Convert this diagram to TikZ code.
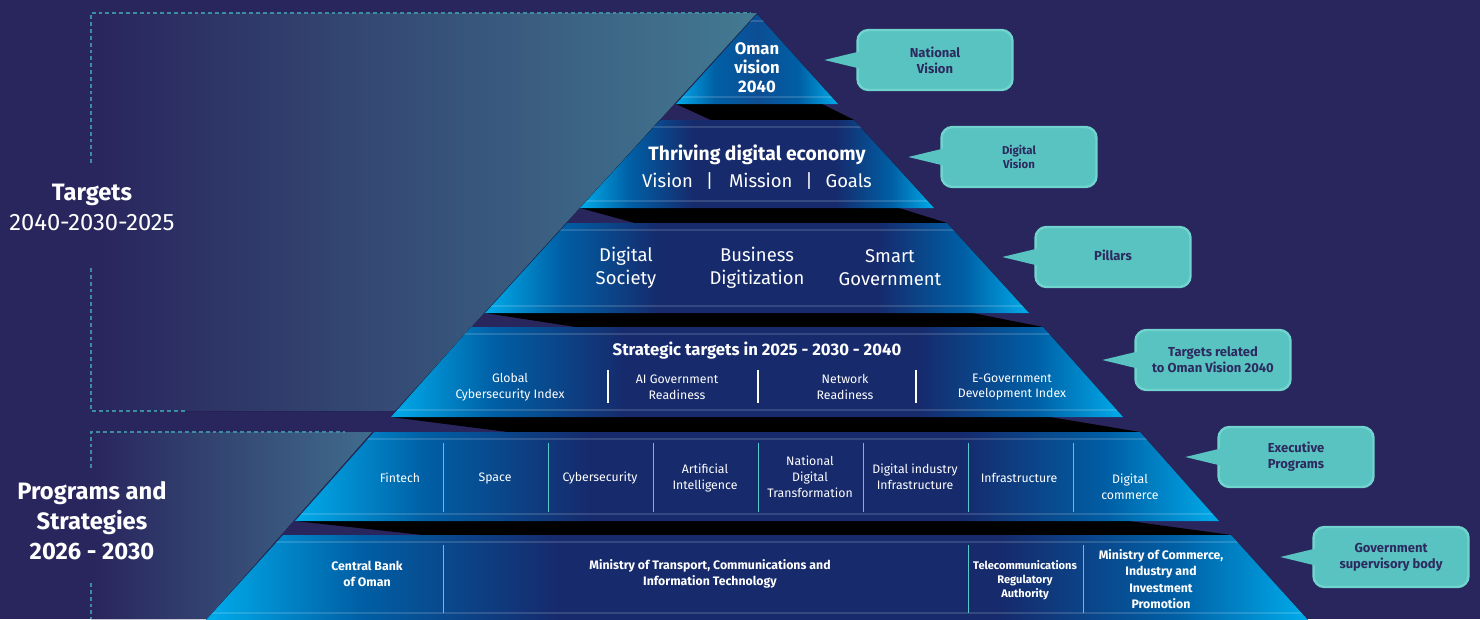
\documentclass[tikz,border=0pt]{standalone}
\usepackage{fontspec}
\setmainfont{Fira Sans}

\definecolor{bgnavy}{RGB}{41,37,93}
\definecolor{panelc}{RGB}{67,122,146}
\definecolor{panelb}{RGB}{64,108,140}
\definecolor{lcyan}{RGB}{0,172,235}
\definecolor{lblue}{RGB}{0,95,165}
\definecolor{lnavy}{RGB}{22,42,108}
\definecolor{tmid}{RGB}{12,78,148}
\definecolor{dashc}{RGB}{62,140,160}
\definecolor{sepc}{RGB}{85,200,200}
\definecolor{callfill}{RGB}{88,195,192}
\definecolor{callline}{RGB}{112,211,205}
\definecolor{calltext}{RGB}{45,42,96}

\pgfdeclarehorizontalshading{layershade}{100bp}{color(0bp)=(lcyan); color(25bp)=(lcyan); color(32bp)=(lblue); color(41bp)=(lnavy); color(61bp)=(lnavy); color(69bp)=(lblue); color(75bp)=(lcyan); color(100bp)=(lcyan)}
\pgfdeclarehorizontalshading{topshade}{100bp}{color(0bp)=(lcyan); color(25bp)=(lcyan); color(37bp)=(lblue); color(50bp)=(tmid); color(63bp)=(lblue); color(75bp)=(lcyan); color(100bp)=(lcyan)}

\begin{document}
\begin{tikzpicture}[x=0.02cm, y=-0.02cm, thick,
	dashline/.style={dashc, line width=0.8pt, dash pattern=on 2.2pt off 1.7pt},
	stripe/.style={white, opacity=0.14, line width=1.2pt},
	sepline/.style={sepc, line width=0.5pt},
	lbl/.style={text=white, align=center, inner sep=1pt},
	itemtxt/.style={lbl, font=\fontsize{7}{9}\selectfont},
	orgtxt/.style={lbl, font=\bfseries\fontsize{7}{9.3}\selectfont},
	sidetxt/.style={lbl, font=\fontsize{13.5}{17}\selectfont},
	callbox/.style={draw=callline, line width=1.4pt, fill=callfill, rounded corners=0.22cm,
		minimum width=3.1cm, minimum height=1.2cm, inner sep=0pt, align=center,
		text=calltext, font=\bfseries\fontsize{7.4}{9}\selectfont}]
				%background
				\fill[bgnavy] (0,0) rectangle (1480,619);
				\useasboundingbox (0,0) rectangle (1480,619);
				
				%side panels
				\fill[left color=bgnavy, right color=panelc] (91,13) -- (757,13) -- (395,411) -- (91,411) -- cycle;
				\fill[left color=bgnavy, right color=panelb] (91,432) -- (372,432) -- (207,619) -- (91,619) -- cycle;
				\draw[dashline] (91,163) -- (91,13) -- (750,13);
				\draw[dashline] (91,268) -- (91,411) -- (187,411);
				\draw[dashline] (91,468) -- (91,432) -- (345,432);
				\draw[dashline] (91,583) -- (91,619);
				
				%shadows under the layers
				\foreach \b/\wb/\tn/\wn/\dl/\dr in {104/81/120/97/35/16, 208/177/223/190/55/35, 313/272/327/286/91/57, 417/366/432/383/117/73, 521/462/535/474/128/90}{
					\fill[black] (757-\wb,\b) -- (757+\wb-\dr,\b) -- (757+\wn,\tn) -- (757-\wb+\dl,\tn) -- cycle;
				}
				
				%pyramid layers
				\foreach \t/\b/\wt/\wb/\shd in {14/104/0/81/topshade, 120/208/97/177/layershade, 223/313/190/272/layershade, 327/417/286/366/layershade, 432/521/383/462/layershade, 535/620/474/551/layershade}{
					\begin{scope}
						\clip (757-\wt,\t) -- (757+\wt,\t) -- (757+\wb,\b) -- (757-\wb,\b) -- cycle;
						\fill[shading=\shd] (757-\wb,\t) rectangle (757+\wb,\b);
						\draw[stripe] (757-\wb,\t+7) -- (757+\wb,\t+7);
						\draw[stripe] (757-\wb,\b-7) -- (757+\wb,\b-7);
					\end{scope}
				}
				
				%separators
				\foreach \x in {608, 758, 916}{
					\draw[white, line width=0.6pt] (\x,370) -- (\x,403);
				}
				\foreach \x in {443, 548, ..., 1073}{
					\draw[sepline] (\x,443) -- (\x,512);
				}
				\foreach \x in {443, 968, 1083}{
					\draw[sepline] (\x,545) -- (\x,613);
				}
				
				%side labels
				\node[sidetxt] (tgt) at (92,207) {\textbf{Targets}\\2040-2030-2025};
				\node[sidetxt, font=\bfseries\fontsize{13.5}{17}\selectfont] (prg) at (92,521) {Programs and\\Strategies\\2026 - 2030};
				
				%layer texts
				\node[lbl, font=\bfseries\fontsize{9.5}{10.8}\selectfont] (oman) at (757,68) {Oman\\vision\\2040};
				\node[lbl, font=\bfseries\fontsize{11}{13}\selectfont] (thrive) at (757,155) {Thriving digital economy};
				\node[lbl, font=\fontsize{10.5}{12}\selectfont] (vmg) at (757,181) {Vision\hspace{0.7em}|\hspace{0.85em}Mission\hspace{0.7em}|\hspace{0.7em}Goals};
				\node[lbl, font=\fontsize{10.5}{13}\selectfont] (society) at (626,268) {Digital\\Society};
				\node[lbl, font=\fontsize{10.5}{13}\selectfont] (business) at (757,268) {Business\\Digitization};
				\node[lbl, font=\fontsize{10.5}{13}\selectfont] (smart) at (890,268) {Smart\\Government};
				\node[lbl, font=\bfseries\fontsize{9.5}{11}\selectfont] (strat) at (757,351) {Strategic targets in 2025 - 2030 - 2040};
				\node[itemtxt] (gci) at (510,387) {Global\\Cybersecurity Index};
				\node[itemtxt] (aigov) at (677,387) {AI Government\\Readiness};
				\node[itemtxt] (netread) at (845,387) {Network\\Readiness};
				\node[itemtxt] (egov) at (1012,387) {E-Government\\Development Index};
				\node[itemtxt] (fintech) at (400,478) {Fintech};
				\node[itemtxt] (space) at (495,478) {Space};
				\node[itemtxt] (cyber) at (600,478) {Cybersecurity};
				\node[itemtxt] (ai) at (705,478) {Artificial\\Intelligence};
				\node[itemtxt] (ndt) at (810,477) {National\\Digital\\Transformation};
				\node[itemtxt] (dii) at (915,477) {Digital industry\\Infrastructure};
				\node[itemtxt] (infra) at (1019,478) {Infrastructure};
				\node[itemtxt] (dcom) at (1130,487) {Digital\\commerce};
				\node[orgtxt] (cbo) at (367,574) {Central Bank\\of Oman};
				\node[orgtxt] (motc) at (710,574) {Ministry of Transport, Communications and\\Information Technology};
				\node[orgtxt, font=\bfseries\fontsize{6.3}{8}\selectfont] (tra) at (1025,580) {Telecommunications\\Regulatory\\Authority};
				\node[orgtxt] (moc) at (1161,579) {Ministry of Commerce,\\Industry and\\Investment\\Promotion};
				
				%callouts
				\node[callbox] (cnat) at (935,60) {National\\Vision};
				\node[callbox, font=\bfseries\fontsize{6.5}{8}\selectfont] (cdig) at (1019,157) {Digital\\Vision};
				\node[callbox] (cpil) at (1113,257) {\raisebox{2.3pt}{Pillars}};
				\node[callbox] (ctar) at (1213,360) {Targets related\\to Oman Vision 2040};
				\node[callbox] (cexe) at (1296,457) {Executive\\Programs};
				\node[callbox] (cgov) at (1391,557) {Government\\supervisory body};
				\foreach \nm in {cnat, cdig, cpil, ctar, cexe, cgov}{
					\coordinate (\nm tip) at ([xshift=-0.64cm]\nm.west);
					\fill[callfill] ([xshift=2.5pt,yshift=5pt]\nm.west) -- (\nm tip) -- ([xshift=2.5pt,yshift=-5pt]\nm.west) -- cycle;
				}
			\end{tikzpicture}
\end{document}
